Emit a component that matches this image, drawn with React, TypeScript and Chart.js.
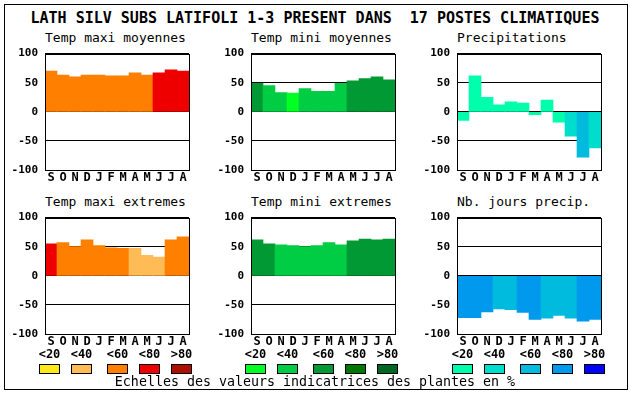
import React, { useEffect, useRef } from 'react';
import { Chart, registerables } from 'chart.js';
Chart.register(...registerables);

const months = ['S', 'O', 'N', 'D', 'J', 'F', 'M', 'A', 'M', 'J', 'J', 'A'];
const yTicks = [-100, -50, 0, 50, 100];

const heat = ['#FFE81A', '#FFBB55', '#FF8000', '#EE0000', '#AA1100'];
const green = ['#00FF22', '#00CC44', '#009933', '#007700', '#006622'];
const blue = ['#00FFAA', '#00DDCC', '#00BBDD', '#0099EE', '#0000FF'];
const classLabels = ['<20', '<40', '<60', '<80', '>80'];

const tmaxMoy = [70, 63, 60, 63, 63, 62, 62, 67, 63, 67, 72, 70];
const tmaxMoyClass = [2, 2, 2, 2, 2, 2, 2, 2, 2, 3, 3, 3];
const tminMoy = [49, 45, 33, 32, 40, 35, 35, 49, 53, 57, 60, 55];
const tminMoyClass = [2, 1, 1, 0, 1, 1, 1, 1, 2, 2, 2, 2];
const precip = [-15, 62, 25, 12, 17, 15, -5, 20, -18, -42, -78, -62];
const precipClass = [0, 0, 0, 0, 0, 0, 0, 0, 0, 1, 2, 1];
const tmaxExt = [55, 57, 50, 62, 52, 48, 47, 47, 35, 32, 62, 67];
const tmaxExtClass = [3, 2, 2, 2, 2, 2, 2, 1, 1, 1, 2, 2];
const tminExt = [62, 55, 53, 52, 50, 52, 57, 53, 60, 63, 62, 63];
const tminExtClass = [2, 2, 1, 1, 1, 1, 1, 1, 2, 2, 2, 2];
const nbJours = [-72, -72, -62, -57, -58, -63, -75, -73, -68, -73, -78, -75];
const nbJoursClass = [3, 3, 3, 2, 2, 3, 3, 2, 2, 2, 3, 3];

const MONO = '"DejaVu Sans Mono", "Liberation Mono", monospace';

const boxPlugin = {
  id: 'box',
  afterDraw(chart: any) {
    const { ctx, chartArea: a } = chart;
    ctx.save();
    ctx.strokeStyle = '#000';
    ctx.lineWidth = 1;
    const l = Math.round(a.left) + 0.5;
    const t = Math.round(a.top) + 0.5;
    const r = Math.round(a.right) + 0.5;
    const b = Math.round(a.bottom) + 0.5;
    ctx.strokeRect(l, t, r - l, b - t);
    ctx.restore();
  },
};

type PanelProps = {
  left: number;
  top: number;
  title: string;
  values: number[];
  classes: number[];
  palette: string[];
};

function Panel({ left, top, title, values, classes, palette }: PanelProps) {
  const ref = useRef<HTMLCanvasElement>(null);
  useEffect(() => {
    const chart = new Chart(ref.current as HTMLCanvasElement, {
      type: 'bar',
      data: {
        labels: months,
        datasets: [
          {
            data: values,
            backgroundColor: classes.map((c) => palette[c]),
            borderWidth: 0,
            barPercentage: 1,
            categoryPercentage: 1,
          },
        ],
      },
      options: {
        responsive: false,
        animation: false,
        devicePixelRatio: 1,
        layout: { padding: { top: 10, right: 6, left: 0, bottom: 0 } },
        plugins: { legend: { display: false }, tooltip: { enabled: false }, title: { display: false } },
        scales: {
          x: {
            grid: { display: false, drawTicks: false },
            border: { display: false },
            ticks: {
              color: '#000',
              font: { family: MONO, size: 12, weight: 'bold' },
              padding: 1,
              maxRotation: 0,
              autoSkip: false,
            },
            afterFit: (s: any) => {
              s.height = 20;
            },
          },
          y: {
            min: yTicks[0],
            max: yTicks[yTicks.length - 1],
            z: 1,
            afterBuildTicks: (s: any) => {
              s.ticks = yTicks.map((v) => ({ value: v }));
            },
            ticks: {
              color: '#000',
              font: { family: MONO, size: 11, weight: 'bold' },
              padding: 7,
              callback: (v: any) => String(v),
            },
            grid: { color: '#000', lineWidth: 1, drawTicks: false },
            border: { display: false },
            afterFit: (s: any) => {
              s.width = 45;
            },
          },
        },
      } as any,
      plugins: [boxPlugin],
    });
    return () => chart.destroy();
  }, []);
  return (
    <>
      <div
        style={{
          position: 'absolute',
          left,
          top: top - 20,
          height: 16,
          lineHeight: '16px',
          fontFamily: MONO,
          fontSize: 13,
          whiteSpace: 'nowrap',
          color: '#000',
        }}
      >
        {title}
      </div>
      <canvas
        ref={ref}
        width={195}
        height={150}
        style={{ position: 'absolute', left: left - 45, top: top - 10, width: 195, height: 150 }}
      />
    </>
  );
}

const groupStarts = [39, 245, 452];
const swatchOffsets = [0, 32, 68, 100, 132];
const palettes = [heat, green, blue];

export default function App() {
  return (
    <div style={{ position: 'absolute', left: 0, top: 0, width: 630, height: 394, background: '#fff' }}>
      <div
        style={{
          position: 'absolute',
          left: 4,
          top: 4,
          width: 624,
          height: 386,
          border: '1px solid #000',
          boxSizing: 'border-box',
        }}
      />
      <div
        style={{
          position: 'absolute',
          left: 0,
          top: 9,
          width: 630,
          textAlign: 'center',
          lineHeight: '18px',
          fontFamily: MONO,
          fontSize: 15,
          fontWeight: 'bold',
          whiteSpace: 'pre',
          color: '#000',
        }}
      >
        {'LATH SILV SUBS LATIFOLI 1-3 PRESENT DANS  17 POSTES CLIMATIQUES'}
      </div>
      <Panel left={45} top={50} title="Temp maxi moyennes" values={tmaxMoy} classes={tmaxMoyClass} palette={heat} />
      <Panel left={251} top={50} title="Temp mini moyennes" values={tminMoy} classes={tminMoyClass} palette={green} />
      <Panel left={457} top={50} title="Precipitations" values={precip} classes={precipClass} palette={blue} />
      <Panel left={45} top={214} title="Temp maxi extremes" values={tmaxExt} classes={tmaxExtClass} palette={heat} />
      <Panel left={251} top={214} title="Temp mini extremes" values={tminExt} classes={tminExtClass} palette={green} />
      <Panel left={457} top={214} title="Nb. jours precip." values={nbJours} classes={nbJoursClass} palette={blue} />
      {groupStarts.map((g, gi) =>
        swatchOffsets.map((o, i) => (
          <React.Fragment key={`${gi}-${i}`}>
            <div
              style={{
                position: 'absolute',
                left: g + o - 10,
                top: 347,
                width: 41,
                height: 14,
                lineHeight: '14px',
                textAlign: 'center',
                fontFamily: MONO,
                fontSize: 12,
                fontWeight: 'bold',
                color: '#000',
              }}
            >
              {classLabels[i]}
            </div>
            <div
              style={{
                position: 'absolute',
                left: g + o,
                top: 364,
                width: 21,
                height: 10,
                boxSizing: 'border-box',
                border: '1px solid #000',
                background: palettes[gi][i],
              }}
            />
          </React.Fragment>
        ))
      )}
      <div
        style={{
          position: 'absolute',
          left: 0,
          top: 374,
          width: 630,
          textAlign: 'center',
          lineHeight: '16px',
          fontFamily: MONO,
          fontSize: 13.3,
          color: '#000',
        }}
      >
        Echelles des valeurs indicatrices des plantes en %
      </div>
    </div>
  );
}
